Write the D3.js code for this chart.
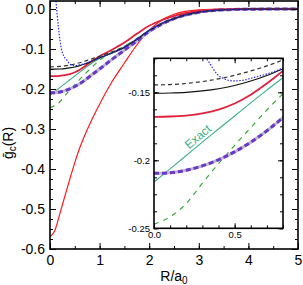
<!DOCTYPE html>
<html>
<head>
<meta charset="utf-8">
<script src="https://cdn.jsdelivr.net/npm/d3@7"></script>
<style>
body { margin: 0; background: #fff; }
text { font-family: "Liberation Sans", Arial, sans-serif; }
</style>
</head>
<body>
<div id="chart"></div>
<script>
// R grid shared by most curves
const rGrid = [0, 0.1, 0.2, 0.3, 0.4, 0.5, 0.6, 0.7, 0.8, 1.0, 1.25, 1.5, 1.75, 2.0, 2.25, 2.5, 3.0, 3.5, 4.0, 5.0];

const gRedThin   = [-0.570, -0.553, -0.511, -0.468, -0.425, -0.384, -0.347, -0.316, -0.288, -0.238, -0.182, -0.135, -0.090, -0.053, -0.028, -0.013, -0.002, 0, 0, 0];
const gCrimson   = [-0.168, -0.1678, -0.1671, -0.1655, -0.1627, -0.1582, -0.1518, -0.1435, -0.1343, -0.118, -0.102, -0.084, -0.062, -0.042, -0.028, -0.017, -0.005, -0.001, 0, 0];
const gBlack     = [-0.1507, -0.1505, -0.150, -0.149, -0.1474, -0.145, -0.1417, -0.1376, -0.1327, -0.122, -0.110, -0.096, -0.076, -0.054, -0.037, -0.024, -0.008, -0.002, -0.0005, 0];
const gBlackDash = [-0.1446, -0.1443, -0.1435, -0.1421, -0.1401, -0.1375, -0.1343, -0.1306, -0.1263, -0.118, -0.107, -0.094, -0.075, -0.053, -0.036, -0.023, -0.008, -0.002, -0.0005, 0];
const gExact     = [-0.216, -0.2063, -0.1965, -0.1866, -0.177, -0.1674, -0.1578, -0.1484, -0.1393, -0.124, -0.110, -0.095, -0.075, -0.053, -0.036, -0.023, -0.008, -0.002, -0.0005, 0];
const gGreenDash = [-0.247, -0.2415, -0.2318, -0.2168, -0.2025, -0.189, -0.176, -0.163, -0.151, -0.128, -0.108, -0.093, -0.074, -0.053, -0.036, -0.023, -0.008, -0.002, -0.0005, 0];
const gPurple    = [-0.2096, -0.2091, -0.2073, -0.2041, -0.1996, -0.1938, -0.1867, -0.1783, -0.1686, -0.150, -0.126, -0.103, -0.080, -0.056, -0.038, -0.024, -0.008, -0.002, -0.0005, 0];

// blue dotted curve has its own grid (diverges at small R)
const rBlue = [0.08, 0.12, 0.17, 0.235, 0.28, 0.336, 0.39, 0.45, 0.49, 0.55, 0.6, 0.7, 0.8, 1.0, 1.25, 1.5, 1.75, 2.0, 2.25, 2.5, 3.0, 3.5, 4.0, 5.0];
const gBlue = [0.08, 0.02, -0.046, -0.1025, -0.118, -0.127, -0.1365, -0.1408, -0.1416, -0.1412, -0.1397, -0.1365, -0.1322, -0.122, -0.110, -0.096, -0.076, -0.054, -0.037, -0.024, -0.008, -0.002, -0.0005, 0];

const mainXTicks = [0, 1, 2, 3, 4, 5];
const mainYTicks = [-0.6, -0.5, -0.4, -0.3, -0.2, -0.1, 0.0];
const insetXTicks = [0, 0.5];
const insetYTicks = [-0.25, -0.2, -0.15];

const width = 303, height = 285;

const svg = d3.select("#chart").append("svg")
    .attr("width", width)
    .attr("height", height);

const zip = (rs, gs) => rs.map((r, i) => [r, gs[i]]);

const series = [
    {data: zip(rGrid, gRedThin), color: "#ff1a1a", w: 1.2, dash: null},
    {data: zip(rGrid, gGreenDash), color: "#3aaa3a", w: 1.2, dash: "5,5"},
    {data: zip(rGrid, gExact), color: "#3cb084", w: 1.1, dash: null},
    {data: zip(rGrid, gPurple), color: "#b9b9c6", w: 3, dash: null},
    {data: zip(rGrid, gPurple), color: "#6a36cc", w: 3, dash: "5,3"},
    {data: zip(rGrid, gCrimson), color: "#e0203c", w: 1.8, dash: null},
    {data: zip(rGrid, gBlack), color: "#111", w: 1.2, dash: null},
    {data: zip(rGrid, gBlackDash), color: "#333", w: 1.2, dash: "4,3"},
    {data: zip(rBlue, gBlue), color: "#2a2af0", w: 1.2, dash: "1.5,1.5"}
];

function drawPanel(opts) {
    const x = d3.scaleLinear().domain(opts.xDom).range([opts.left, opts.right]);
    const y = d3.scaleLinear().domain(opts.yDom).range([opts.bottom, opts.top]);
    const g = svg.append("g");

    g.append("rect")
        .attr("x", opts.left).attr("y", opts.top)
        .attr("width", opts.right - opts.left).attr("height", opts.bottom - opts.top)
        .attr("fill", "#fff");

    g.append("clipPath").attr("id", opts.id)
        .append("rect")
        .attr("x", opts.left).attr("y", opts.top)
        .attr("width", opts.right - opts.left).attr("height", opts.bottom - opts.top);

    const line = d3.line()
        .x(d => x(d[0]))
        .y(d => y(d[1]))
        .curve(d3.curveMonotoneX);

    g.append("g").attr("clip-path", `url(#${opts.id})`)
        .selectAll("path").data(series).enter()
        .append("path")
        .attr("d", d => line(d.data))
        .attr("fill", "none")
        .attr("stroke", d => d.color)
        .attr("stroke-width", d => d.w)
        .attr("stroke-dasharray", d => d.dash);

    // minor ticks, all four sides
    const minorX = d3.range(opts.xDom[0], opts.xDom[1] + 1e-9, opts.xMinor);
    const minorY = d3.range(opts.yDom[0], opts.yDom[1] + 1e-9, opts.yMinor);
    g.append("g").attr("transform", `translate(0,${opts.bottom})`)
        .call(d3.axisBottom(x).tickValues(minorX).tickSize(-opts.minorLen).tickFormat(""));
    g.append("g").attr("transform", `translate(0,${opts.top})`)
        .call(d3.axisTop(x).tickValues(minorX).tickSize(-opts.minorLen).tickFormat(""));
    g.append("g").attr("transform", `translate(${opts.left},0)`)
        .call(d3.axisLeft(y).tickValues(minorY).tickSize(-opts.minorLen).tickFormat(""));
    g.append("g").attr("transform", `translate(${opts.right},0)`)
        .call(d3.axisRight(y).tickValues(minorY).tickSize(-opts.minorLen).tickFormat(""));

    // major ticks with labels
    g.append("g").attr("transform", `translate(0,${opts.bottom})`)
        .call(d3.axisBottom(x).tickValues(opts.xTicks).tickSize(-opts.majorLen)
            .tickPadding(opts.xPad).tickFormat(opts.xFmt));
    g.append("g").attr("transform", `translate(0,${opts.top})`)
        .call(d3.axisTop(x).tickValues(opts.xTicks).tickSize(-opts.majorLen).tickFormat(""));
    g.append("g").attr("transform", `translate(${opts.left},0)`)
        .call(d3.axisLeft(y).tickValues(opts.yTicks).tickSize(-opts.majorLen)
            .tickPadding(opts.yPad).tickFormat(opts.yFmt));
    g.append("g").attr("transform", `translate(${opts.right},0)`)
        .call(d3.axisRight(y).tickValues(opts.yTicks).tickSize(-opts.majorLen).tickFormat(""));

    g.selectAll(".domain").remove();
    g.selectAll(".tick line").attr("stroke", "#000").attr("stroke-width", 1);
    g.selectAll(".tick text")
        .attr("fill", "#000")
        .style("font-family", '"Liberation Sans", Arial, sans-serif')
        .style("font-size", opts.fontSize + "px");

    g.append("rect")
        .attr("x", opts.left).attr("y", opts.top)
        .attr("width", opts.right - opts.left).attr("height", opts.bottom - opts.top)
        .attr("fill", "none")
        .attr("stroke", "#000")
        .attr("stroke-width", 1.6);

    return {x, y, g};
}

const main = drawPanel({
    id: "clipMain",
    xDom: [0, 5], yDom: [-0.6, 0.02],
    left: 50, right: 298, top: 1, bottom: 249,
    xTicks: mainXTicks, yTicks: mainYTicks,
    xMinor: 0.5, yMinor: 0.025,
    majorLen: 6, minorLen: 3,
    xPad: 6, yPad: 5, fontSize: 14,
    xFmt: d => String(d), yFmt: d => d.toFixed(1)
});

const inset = drawPanel({
    id: "clipInset",
    xDom: [0, 0.8], yDom: [-0.25, -0.125],
    left: 154, right: 283, top: 58.3, bottom: 228.3,
    xTicks: insetXTicks, yTicks: insetYTicks,
    xMinor: 0.1, yMinor: 0.0125,
    majorLen: 5, minorLen: 3,
    xPad: 3, yPad: 4, fontSize: 9.5,
    xFmt: d => d.toFixed(1), yFmt: d => String(d)
});

// "Exact" label along the exact curve in the inset
const rLab = 0.3;
const gLab = gExact[3];
inset.g.append("text")
    .attr("transform", `translate(${inset.x(rLab)},${inset.y(gLab)}) rotate(-40)`)
    .attr("dy", -3)
    .attr("text-anchor", "middle")
    .attr("fill", "#3cb084")
    .style("font-size", "12px")
    .text("Exact");

// axis titles
const xt = svg.append("text")
    .attr("x", (50 + 298) / 2)
    .attr("y", 281)
    .attr("text-anchor", "middle")
    .style("font-size", "14px")
    .text("R/a");
xt.append("tspan").attr("dy", 3).style("font-size", "10px").text("0");

const yt = svg.append("text")
    .attr("transform", `translate(13,143) rotate(-90)`)
    .attr("text-anchor", "middle")
    .style("font-size", "14px");
yt.append("tspan").text("\u1E21");
yt.append("tspan").attr("dy", 3).style("font-size", "10px").text("c");
yt.append("tspan").attr("dy", -3).text("(R)");
</script>
</body>
</html>
